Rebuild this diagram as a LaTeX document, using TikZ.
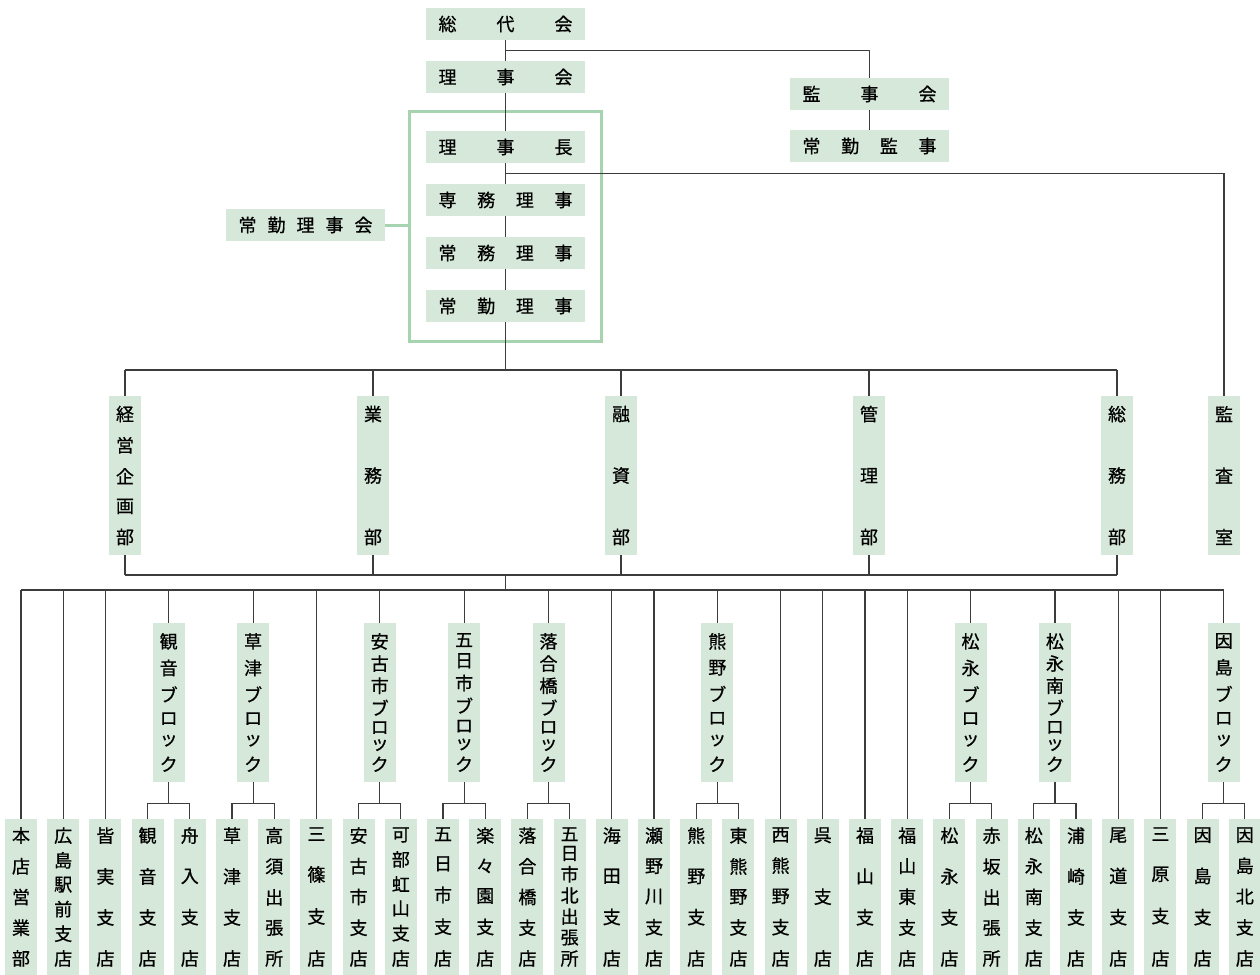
\documentclass[tikz,border=0pt]{standalone}
\usepackage{fontspec}
\setmainfont{Noto Sans CJK JP}[FakeBold=0.7]
\usetikzlibrary{calc,fit}

\definecolor{boxgreen}{HTML}{D6E8D9}
\definecolor{framegreen}{HTML}{A6D3B0}
\definecolor{linegray}{HTML}{3C3C3C}

\newcommand*{\depty}{475.5}
\newcommand*{\blky}{702.5}
\newcommand*{\leafy}{897}
\newcommand*{\vs}{\par\vfill}
\newcommand*{\vlabel}[1]{\parbox[c][138pt][s]{18pt}{\centering\baselineskip=0pt\lineskip=0pt #1}}
\newcommand*{\hlabel}[1]{\makebox[134pt][s]{#1}}
\newcommand*{\forkdown}[3]{%
	\draw[link] (#1.south) -- ++(0,21) coordinate (#1-fork);
	\draw[link] (#2.north) |- (#1-fork) -| (#3.north);}

\begin{document}
\begin{tikzpicture}
[
	x=1pt, y=-1pt,
	box/.style={fill=boxgreen,inner sep=0pt,font=\fontsize{18pt}{22pt}\selectfont},
	hbox/.style={box,minimum width=159pt,minimum height=32pt},
	vbox/.style={box,minimum width=32pt,minimum height=159pt},
	leaf/.style={box,minimum width=32pt,minimum height=156pt},
	link/.style={draw=linegray,line width=1.2pt},
	greenlink/.style={draw=framegreen,line width=3pt}
]
	\useasboundingbox (0,0) rectangle (1260,974);

	% top
	\node[hbox] (sodaikai) at (505.5,24) {\hlabel{総\hfill 代\hfill 会}};
	\node[hbox] (rijikai) at (505.5,77) {\hlabel{理\hfill 事\hfill 会}};
	\node[hbox] (rijicho) at (505.5,147) {\hlabel{理\hfill 事\hfill 長}};
	\node[hbox] (senmu) at (505.5,200) {\hlabel{専\hfill 務\hfill 理\hfill 事}};
	\node[hbox] (jomu) at (505.5,253) {\hlabel{常\hfill 務\hfill 理\hfill 事}};
	\node[hbox] (jokin) at (505.5,306) {\hlabel{常\hfill 勤\hfill 理\hfill 事}};
	\node[hbox] (jokinkai) at (305.5,225) {\hlabel{常\hfill 勤\hfill 理\hfill 事\hfill 会}};
	\node[hbox] (kanjikai) at (869.5,94) {\hlabel{監\hfill 事\hfill 会}};
	\node[hbox] (jokinkanji) at (869.5,146) {\hlabel{常\hfill 勤\hfill 監\hfill 事}};

	\node[draw=framegreen,line width=3pt,inner xsep=16.5pt,inner ysep=19pt,fit=(rijicho)(jokin)] (jokinframe) {};
	\draw[greenlink] (jokinkai.east) -- (jokinkai.east -| jokinframe.west);

	% departments
	\node[vbox] (keiei) at (125,\depty) {\vlabel{経\vs 営\vs 企\vs 画\vs 部}};
	\node[vbox] (gyomu) at (373,\depty) {\vlabel{業\vs 務\vs 部}};
	\node[vbox] (yushi) at (621,\depty) {\vlabel{融\vs 資\vs 部}};
	\node[vbox] (kanri) at (869,\depty) {\vlabel{管\vs 理\vs 部}};
	\node[vbox] (somu) at (1117,\depty) {\vlabel{総\vs 務\vs 部}};
	\node[vbox] (kansa) at (1224,\depty) {\vlabel{監\vs 査\vs 室}};

	% blocks
	\node[vbox] (kannonblk) at (168.7,\blky) {\vlabel{観\vs 音\vs ブ\vs ロ\vs ッ\vs ク}};
	\node[vbox] (kusatsublk) at (253.1,\blky) {\vlabel{草\vs 津\vs ブ\vs ロ\vs ッ\vs ク}};
	\node[vbox] (yasublk) at (379.7,\blky) {\vlabel{安\vs 古\vs 市\vs ブ\vs ロ\vs ッ\vs ク}};
	\node[vbox] (itsukaichiblk) at (464.1,\blky) {\vlabel{五\vs 日\vs 市\vs ブ\vs ロ\vs ッ\vs ク}};
	\node[vbox] (ochiaiblk) at (548.5,\blky) {\vlabel{落\vs 合\vs 橋\vs ブ\vs ロ\vs ッ\vs ク}};
	\node[vbox] (kumanoblk) at (717.3,\blky) {\vlabel{熊\vs 野\vs ブ\vs ロ\vs ッ\vs ク}};
	\node[vbox] (matsunagablk) at (970.5,\blky) {\vlabel{松\vs 永\vs ブ\vs ロ\vs ッ\vs ク}};
	\node[vbox] (matsuminamiblk) at (1054.9,\blky) {\vlabel{松\vs 永\vs 南\vs ブ\vs ロ\vs ッ\vs ク}};
	\node[vbox] (innoshimablk) at (1223.7,\blky) {\vlabel{因\vs 島\vs ブ\vs ロ\vs ッ\vs ク}};

	% branches
	\node[leaf] (honten) at (21,\leafy) {\vlabel{本\vs 店\vs 営\vs 業\vs 部}};
	\node[leaf] (hiroshimaeki) at (63.2,\leafy) {\vlabel{広\vs 島\vs 駅\vs 前\vs 支\vs 店}};
	\node[leaf] (minami) at (105.4,\leafy) {\vlabel{皆\vs 実\vs 支\vs 店}};
	\node[leaf] (kannon) at (147.6,\leafy) {\vlabel{観\vs 音\vs 支\vs 店}};
	\node[leaf] (funairi) at (189.8,\leafy) {\vlabel{舟\vs 入\vs 支\vs 店}};
	\node[leaf] (kusatsu) at (232,\leafy) {\vlabel{草\vs 津\vs 支\vs 店}};
	\node[leaf] (takasu) at (274.2,\leafy) {\vlabel{高\vs 須\vs 出\vs 張\vs 所}};
	\node[leaf] (misasa) at (316.4,\leafy) {\vlabel{三\vs 篠\vs 支\vs 店}};
	\node[leaf] (yasufuruichi) at (358.6,\leafy) {\vlabel{安\vs 古\vs 市\vs 支\vs 店}};
	\node[leaf] (kabe) at (400.8,\leafy) {\vlabel{可\vs 部\vs 虹\vs 山\vs 支\vs 店}};
	\node[leaf] (itsukaichi) at (443,\leafy) {\vlabel{五\vs 日\vs 市\vs 支\vs 店}};
	\node[leaf] (rakurakuen) at (485.2,\leafy) {\vlabel{楽\vs 々\vs 園\vs 支\vs 店}};
	\node[leaf] (ochiai) at (527.4,\leafy) {\vlabel{落\vs 合\vs 橋\vs 支\vs 店}};
	\node[leaf] (itsukaichikita) at (569.6,\leafy) {\vlabel{五\vs 日\vs 市\vs 北\vs 出\vs 張\vs 所}};
	\node[leaf] (kaita) at (611.8,\leafy) {\vlabel{海\vs 田\vs 支\vs 店}};
	\node[leaf] (senogawa) at (654,\leafy) {\vlabel{瀬\vs 野\vs 川\vs 支\vs 店}};
	\node[leaf] (kumano) at (696.2,\leafy) {\vlabel{熊\vs 野\vs 支\vs 店}};
	\node[leaf] (higashikumano) at (738.4,\leafy) {\vlabel{東\vs 熊\vs 野\vs 支\vs 店}};
	\node[leaf] (nishikumano) at (780.6,\leafy) {\vlabel{西\vs 熊\vs 野\vs 支\vs 店}};
	\node[leaf] (kure) at (822.8,\leafy) {\vlabel{呉\vs 支\vs 店}};
	\node[leaf] (fukuyama) at (865,\leafy) {\vlabel{福\vs 山\vs 支\vs 店}};
	\node[leaf] (fukuyamahigashi) at (907.2,\leafy) {\vlabel{福\vs 山\vs 東\vs 支\vs 店}};
	\node[leaf] (matsunaga) at (949.4,\leafy) {\vlabel{松\vs 永\vs 支\vs 店}};
	\node[leaf] (akasaka) at (991.6,\leafy) {\vlabel{赤\vs 坂\vs 出\vs 張\vs 所}};
	\node[leaf] (matsunagaminami) at (1033.8,\leafy) {\vlabel{松\vs 永\vs 南\vs 支\vs 店}};
	\node[leaf] (urasaki) at (1076,\leafy) {\vlabel{浦\vs 崎\vs 支\vs 店}};
	\node[leaf] (onomichi) at (1118.2,\leafy) {\vlabel{尾\vs 道\vs 支\vs 店}};
	\node[leaf] (mihara) at (1160.4,\leafy) {\vlabel{三\vs 原\vs 支\vs 店}};
	\node[leaf] (innoshima) at (1202.6,\leafy) {\vlabel{因\vs 島\vs 支\vs 店}};
	\node[leaf] (innoshimakita) at (1244.8,\leafy) {\vlabel{因\vs 島\vs 北\vs 支\vs 店}};

	% spine
	\draw[link] (sodaikai.south) -- (rijikai.north);
	\draw[link] (rijikai.south) -- (rijicho.north);
	\draw[link] (rijicho.south) -- (senmu.north);
	\draw[link] (senmu.south) -- (jomu.north);
	\draw[link] (jomu.south) -- (jokin.north);
	\draw[link] ($(sodaikai.south)!.5!(rijikai.north)$) -| (kanjikai.north);
	\draw[link] (kanjikai.south) -- (jokinkanji.north);
	\draw[link] ($(rijicho.south)!.5!(senmu.north)$) -| (kansa.north);

	% department buses
	\coordinate (topbus) at (505.5,370);
	\coordinate (lowbus) at (505.5,575);
	\coordinate (branchbus) at (505.5,590);
	\draw[link] (jokin.south) -- (topbus);
	\draw[link] (keiei.north |- topbus) -- (somu.north |- topbus);
	\draw[link] (keiei.south |- lowbus) -- (somu.south |- lowbus);
	\foreach \d in {keiei,gyomu,yushi,kanri,somu}{
		\draw[link] (\d.north) -- (\d.north |- topbus);
		\draw[link] (\d.south) -- (\d.south |- lowbus);
	}
	\draw[link] (lowbus) -- (branchbus);

	% branch bus
	\draw[link] (honten.north |- branchbus) -- (innoshimablk.north |- branchbus);
	\foreach \b in {honten,hiroshimaeki,minami,misasa,kaita,senogawa,nishikumano,kure,fukuyama,fukuyamahigashi,onomichi,mihara,
		kannonblk,kusatsublk,yasublk,itsukaichiblk,ochiaiblk,kumanoblk,matsunagablk,matsuminamiblk,innoshimablk}
		\draw[link] (\b.north) -- (\b.north |- branchbus);

	% blocks to branches
	\forkdown{kannonblk}{kannon}{funairi}
	\forkdown{kusatsublk}{kusatsu}{takasu}
	\forkdown{yasublk}{yasufuruichi}{kabe}
	\forkdown{itsukaichiblk}{itsukaichi}{rakurakuen}
	\forkdown{ochiaiblk}{ochiai}{itsukaichikita}
	\forkdown{kumanoblk}{kumano}{higashikumano}
	\forkdown{matsunagablk}{matsunaga}{akasaka}
	\forkdown{matsuminamiblk}{matsunagaminami}{urasaki}
	\forkdown{innoshimablk}{innoshima}{innoshimakita}

\end{tikzpicture}
\end{document}
